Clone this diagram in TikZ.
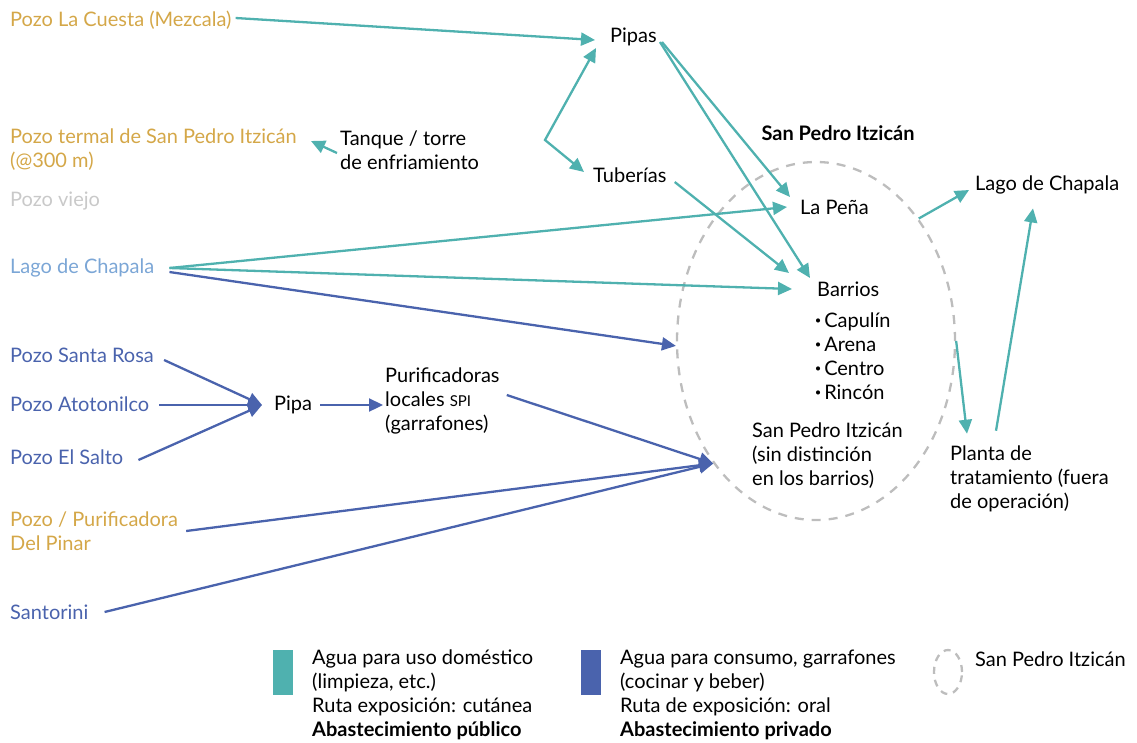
\documentclass[tikz,border=0pt]{standalone}
\usepackage{fontspec}
\setmainfont{Lato}
\usetikzlibrary{arrows.meta,calc,shapes.geometric}
\definecolor{tealc}{HTML}{4FB1AF}
\definecolor{bluec}{HTML}{4A63AD}
\definecolor{goldc}{HTML}{D4A748}
\definecolor{lbluec}{HTML}{7BA6D6}
\definecolor{grayc}{HTML}{C9C9C9}
\definecolor{ellc}{HTML}{BDBDBD}
\tikzset{
  lbl/.style={inner sep=0pt, anchor=west, font=\fontsize{20}{24}\selectfont, align=left},
  tarr/.style={draw=tealc, line width=2.3pt, -{Triangle[length=14pt,width=13pt]}},
  barr/.style={draw=bluec, line width=2.3pt, -{Triangle[length=14pt,width=13pt]}},
  dashell/.style={ellipse, draw=ellc, dashed, dash pattern=on 9pt off 8pt, line width=2.3pt, inner sep=0pt},
}
\newcommand{\bul}{{\fontsize{22}{24}\selectfont\textbf{·}}\hspace{3pt}}
\begin{document}
\begin{tikzpicture}[x=1pt,y=-1pt]
\useasboundingbox (0,0) rectangle (1137,742);
% left sources
\node[lbl, text=goldc] (cuesta) at (10,20) {Pozo La Cuesta (Mezcala)};
\node[lbl, text=goldc] (termal) at (10,150) {Pozo termal de San Pedro Itzicán\\(@300 m)};
\node[lbl, text=grayc] (viejo) at (10,201) {Pozo viejo};
\node[lbl, text=lbluec] (lchap) at (10,268) {Lago de Chapala};
\node[lbl, text=bluec] (srosa) at (10,355) {Pozo Santa Rosa};
\node[lbl, text=bluec] (atoto) at (10,404) {Pozo Atotonilco};
\node[lbl, text=bluec] (salto) at (10,457) {Pozo El Salto};
\node[lbl, text=goldc] (pinar) at (10,531) {Pozo / Purificadora\\Del Pinar};
\node[lbl, text=bluec] (santorini) at (10,612) {Santorini};
% middle
\node[lbl] (tanque) at (340,150) {Tanque / torre\\de enfriamiento};
\node[lbl] (pipas) at (610,37) {Pipas};
\node[lbl] (tuberias) at (593,175) {Tuberías};
\node[lbl] (pipa) at (274,405) {Pipa};
\node[lbl] (purif) at (385,401) {Purificadoras\\locales {\fontsize{15}{24}\selectfont SPI}\\(garrafones)};
% San Pedro
\node[dashell, minimum width=278pt, minimum height=358pt] (spiell) at (816,341) {};
\node[lbl, anchor=center, font=\fontsize{20}{24}\selectfont\bfseries] (spititle) at (838,133) {San Pedro Itzicán};
\node[lbl] (lapena) at (800,207) {La Peña};
\node[lbl] (barrios) at (817,289) {Barrios};
\node[lbl] (bullets) at (815,356) {\bul Capulín\\\bul Arena\\\bul Centro\\\bul Rincón};
\node[lbl] (sinds) at (752,456) {San Pedro Itzicán\\(sin distinción\\en los barrios)};
\node[lbl] (lchap2) at (975,185) {Lago de Chapala};
\node[lbl] (planta) at (950,479) {Planta de\\tratamiento (fuera\\de operación)};
% teal connectors
\draw[tarr] ($(cuesta.east)+(4,-2)$) -- ($(pipas.west)+(-15,3)$);
\draw[tarr, {Triangle[length=14pt,width=13pt]}-{Triangle[length=14pt,width=13pt]}] ($(pipas.west)+(-14,11)$) -- ($(tuberias.west)+(-48,-35)$) -- ($(tuberias.west)+(-9,-3)$);
\draw[tarr] ($(tanque.west)+(-3,3)$) -- ($(tanque.west)+(-29,-9)$);
\draw[tarr] ($(pipas.east)+(5,5)$) -- ($(lapena.west)+(-10,-10)$);
\draw[tarr] ($(pipas.east)+(3,5)$) -- ($(barrios.west)+(-7,-11)$);
\draw[tarr] ($(tuberias.east)+(8,7)$) -- ($(barrios.west)+(-28,-16)$);
\draw[tarr] ($(lchap.east)+(15,0)$) -- ($(lapena.west)+(-13,0)$);
\draw[tarr] ($(lchap.east)+(15,0)$) -- ($(barrios.west)+(-25,0)$);
\draw[tarr] (spiell.50) -- ($(lchap2.west)+(-6,5)$);
\draw[tarr] (spiell.0) -- ($(planta.north west)+(17,-12)$);
\draw[tarr] ($(planta.north west)+(46,-15)$) -- ($(lchap2.south west)+(58,14)$);
% blue connectors
\draw[barr] ($(lchap.east)+(15,4)$) -- (spiell.182);
\draw[barr] ($(srosa.east)+(10,5)$) -- ($(pipa.west)+(-12,0)$);
\draw[barr] ($(atoto.east)+(10,1)$) -- ($(pipa.west)+(-12,0)$);
\draw[barr] ($(salto.east)+(15,3)$) -- ($(pipa.west)+(-12,0)$);
\draw[barr] ($(pipa.east)+(8,0)$) -- ($(purif.west)+(-2,4)$);
\draw[barr] ($(purif.east)+(7,-6)$) -- (spiell.230);
\draw[barr] ($(pinar.east)+(8,0)$) -- (spiell.230);
\draw[barr] ($(santorini.east)+(16,0)$) -- (spiell.230);
% legend
\fill[tealc] (273,650) rectangle (293,695);
\fill[bluec] (581,650) rectangle (601,695);
\node[lbl] (leg1) at (312,695) {Agua para uso doméstico\\(limpieza, etc.)\\Ruta exposición: cutánea\\\textbf{Abastecimiento público}};
\node[lbl] (leg2) at (620,695) {Agua para consumo, garrafones\\(cocinar y beber)\\Ruta de exposición: oral\\\textbf{Abastecimiento privado}};
\node[dashell, minimum width=28pt, minimum height=44pt, dash pattern=on 7pt off 6pt] (legell) at (948,672) {};
\node[lbl] (leg3) at (975,659) {San Pedro Itzicán};
\end{tikzpicture}
\end{document}
